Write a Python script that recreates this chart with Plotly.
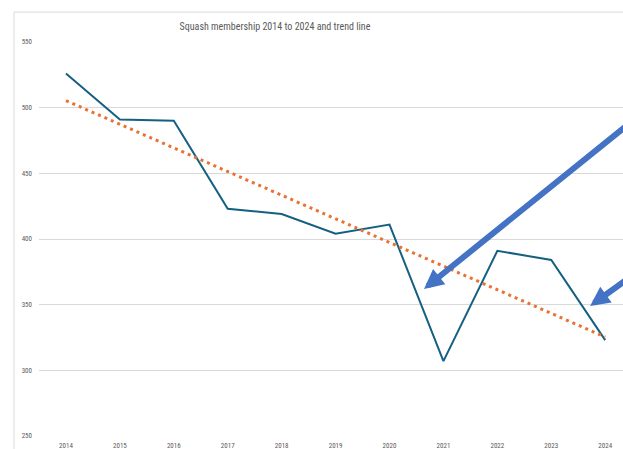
import numpy as np
import plotly.graph_objects as go

years = [2014, 2015, 2016, 2017, 2018, 2019, 2020, 2021, 2022, 2023, 2024]
membership = [526, 491, 490, 423, 419, 404, 411, 307, 391, 384, 323]
y_ticks = [250, 300, 350, 400, 450, 500, 550]
title_text = "Squash membership 2014 to 2024 and trend line"

# linear trend line (least squares, as a spreadsheet trendline)
coef = np.polyfit(years, membership, 1)
trend = list(np.polyval(coef, years))

FONT = "Liberation Sans Narrow, Roboto Condensed, Arial Narrow, Liberation Sans, sans-serif"

fig = go.Figure()
fig.add_trace(go.Scatter(
    x=years, y=membership, mode="lines",
    line=dict(color="#156082", width=2), showlegend=False, cliponaxis=False))
fig.add_trace(go.Scatter(
    x=years, y=trend, mode="lines",
    line=dict(color="#E97132", width=3, dash="3px,4px"), showlegend=False))

# callout arrows (tip in data space, tail off toward the right edge)
arrow_style = dict(showarrow=True, arrowhead=2, arrowsize=0.65, arrowwidth=6,
                   arrowcolor="#4472C4", xref="x", yref="y", axref="x", ayref="y", text="")
fig.add_annotation(x=2020.64, y=362, ax=2024.6, ay=493, **arrow_style)
fig.add_annotation(x=2023.72, y=349, ax=2024.6, ay=375, **arrow_style)

# chart area border
fig.add_shape(type="rect", xref="paper", yref="paper",
              x0=-0.0428, x1=1.2, y0=-0.2, y1=1.076,
              line=dict(color="#D9D9D9", width=1), fillcolor="rgba(0,0,0,0)")

fig.update_layout(
    width=623, height=449,
    margin=dict(l=39, r=0, t=42, b=13, autoexpand=False),
    paper_bgcolor="white", plot_bgcolor="white",
    font=dict(family=FONT, color="#595959"),
    title=dict(text=title_text, x=275/623, xref="container", xanchor="center",
               y=1-26/449, yref="container", yanchor="middle",
               font=dict(family=FONT, size=10, color="#595959")),
    xaxis=dict(range=[2013.5, 2024.33], tickmode="array", tickvals=years,
               ticktext=[str(y) for y in years], showgrid=False, zeroline=False,
               showline=False, ticks="", ticklabelstandoff=4,
               tickfont=dict(size=7, color="#595959"), automargin=False),
    yaxis=dict(range=[250, 550], tickmode="array", tickvals=y_ticks,
               showgrid=True, gridcolor="#D9D9D9", gridwidth=1, zeroline=False,
               showline=False, ticks="", ticklabelstandoff=6,
               tickfont=dict(size=7, color="#595959"), automargin=False),
)

fig.write_html("out.html", config={"displayModeBar": False},
               post_script="document.body.style.margin='0';document.body.style.overflow='hidden';")
